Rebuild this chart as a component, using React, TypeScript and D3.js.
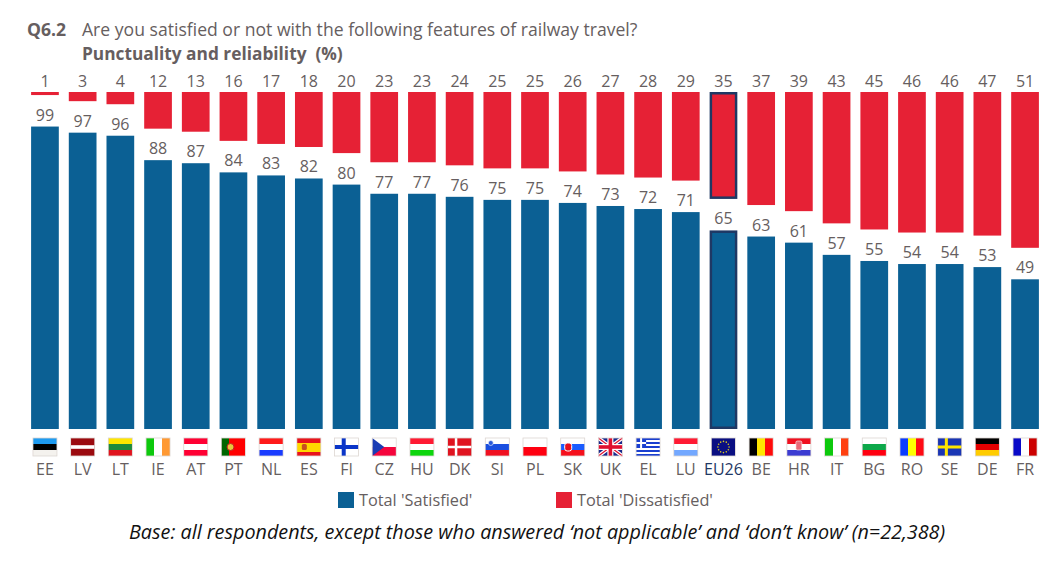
import * as d3 from "d3";

const countries = ["EE", "LV", "LT", "IE", "AT", "PT", "NL", "ES", "FI", "CZ", "HU", "DK", "SI", "PL", "SK", "UK", "EL", "LU", "EU26", "BE", "HR", "IT", "BG", "RO", "SE", "DE", "FR"];
const satisfied = [99, 97, 96, 88, 87, 84, 83, 82, 80, 77, 77, 76, 75, 75, 74, 73, 72, 71, 65, 63, 61, 57, 55, 54, 54, 53, 49];
const dissatisfied = [1, 3, 4, 12, 13, 16, 17, 18, 20, 23, 23, 24, 25, 25, 26, 27, 28, 29, 35, 37, 39, 43, 45, 46, 46, 47, 51];

const BLUE = "#0b6094";
const RED = "#e62135";
const NAVY = "#1f3864";
const GREY = "#665e60";
const FONT = "'Open Sans', sans-serif";

// stripes for the simple flags, top to bottom (h) or left to right (v)
const stripes: Record<string, [string, string[]]> = {
  EE: ["h", ["#1e9bf0", "#000000", "#f4f2ee"]],
  LV: ["h", ["#9b0a0f"]],
  LT: ["h", ["#ffe600", "#1f8a3c", "#e0141e"]],
  IE: ["v", ["#0dc90d", "#ffffff", "#ff9933"]],
  AT: ["h", ["#ff0033", "#ffffff", "#ff0033"]],
  PT: ["v", ["#006600", "#ff0000", "#ff0000"]],
  NL: ["h", ["#ff1a1a", "#ffffff", "#1a3cff"]],
  ES: ["h", ["#e8141c", "#ffd800", "#ffd800", "#e8141c"]],
  FI: ["h", ["#ffffff"]],
  CZ: ["h", ["#ffffff", "#f5053c"]],
  HU: ["h", ["#ff1a33", "#ffffff", "#0dd60d"]],
  DK: ["h", ["#e01420"]],
  SI: ["h", ["#ffffff", "#1a4fe0", "#f01020"]],
  PL: ["h", ["#ffffff", "#ff0010"]],
  SK: ["h", ["#ffffff", "#1a5cff", "#f5101c"]],
  UK: ["h", ["#1a2a8c"]],
  EL: ["h", ["#1a3fd0", "#ffffff", "#1a3fd0", "#ffffff", "#1a3fd0", "#ffffff", "#1a3fd0", "#ffffff", "#1a3fd0"]],
  LU: ["h", ["#ff1a33", "#ffffff", "#73a8ff"]],
  EU26: ["h", ["#0a0f82"]],
  BE: ["v", ["#000000", "#ffe600", "#ff0a0a"]],
  HR: ["h", ["#f01020", "#ffffff", "#3c3cd2"]],
  IT: ["v", ["#0dc90d", "#ffffff", "#ff4010"]],
  BG: ["h", ["#ffffff", "#0da84a", "#ff0010"]],
  RO: ["v", ["#0a3cff", "#ffff00", "#ff0a14"]],
  SE: ["h", ["#1a36b4"]],
  DE: ["h", ["#000000", "#e60000", "#ffcc00"]],
  FR: ["v", ["#0a0ac8", "#ffffff", "#cc0000"]],
};

const W = 24;
const H = 18;

function Cross({ color, w }: { color: string; w: number }) {
  return (
    <g fill={color}>
      <rect x={W * 0.3} y={0} width={w} height={H} />
      <rect x={0} y={(H - w) / 2} width={W} height={w} />
    </g>
  );
}

function Flag({ code }: { code: string }) {
  const [dir, cols] = stripes[code];
  const band = d3.scaleBand<number>().domain(d3.range(cols.length)).range([0, dir === "h" ? H : W]);
  return (
    <g>
      <g shapeRendering="crispEdges">
        {cols.map((c, i) =>
          dir === "h" ? (
            <rect key={i} x={0} y={band(i)} width={W} height={band.bandwidth()} fill={c} />
          ) : (
            <rect key={i} x={band(i)} y={0} width={band.bandwidth()} height={H} fill={c} />
          )
        )}
      </g>
      {code === "LV" && <rect x={0} y={H * 0.4} width={W} height={H * 0.2} fill="#ffffff" />}
      {code === "FI" && <Cross color="#0a35c8" w={4} />}
      {code === "SE" && <Cross color="#ffe600" w={3} />}
      {code === "DK" && <Cross color="#ffffff" w={2.5} />}
      {code === "CZ" && <path d={`M0,0L${W / 2},${H / 2}L0,${H}Z`} fill="#1a3cb4" />}
      {code === "PT" && <circle cx={W * 0.38} cy={H / 2} r={3.5} fill="#e8c83c" stroke="#c02020" />}
      {code === "ES" && <rect x={5} y={6} width={5} height={6} rx={1.5} fill="#c8501e" />}
      {code === "SI" && <circle cx={5.5} cy={5} r={2.5} fill="#2a5ad8" stroke="#ffffff" strokeWidth={0.6} />}
      {code === "SK" && <rect x={4} y={5} width={7} height={8} rx={2.5} fill="#e8101c" stroke="#ffffff" />}
      {code === "HR" && <rect x={9} y={3} width={6} height={9} rx={1.5} fill="#e86a78" stroke="#ffffff" strokeWidth={0.6} />}
      {code === "EL" && (
        <g>
          <rect x={0} y={0} width={10} height={10} fill="#1a3fd0" />
          <rect x={4} y={0} width={2} height={10} fill="#ffffff" />
          <rect x={0} y={4} width={10} height={2} fill="#ffffff" />
        </g>
      )}
      {code === "UK" && (
        <g>
          <path d={`M0,0L${W},${H}M${W},0L0,${H}`} stroke="#ffffff" strokeWidth={3.6} />
          <path d={`M0,0L${W},${H}M${W},0L0,${H}`} stroke="#e01030" strokeWidth={1.2} />
          <rect x={W / 2 - 3} y={0} width={6} height={H} fill="#ffffff" />
          <rect x={0} y={H / 2 - 3} width={W} height={6} fill="#ffffff" />
          <rect x={W / 2 - 1.8} y={0} width={3.6} height={H} fill="#e01030" />
          <rect x={0} y={H / 2 - 1.8} width={W} height={3.6} fill="#e01030" />
        </g>
      )}
      {code === "EU26" &&
        d3.range(12).map((i) => (
          <circle
            key={i}
            cx={W / 2 + 5.6 * Math.cos((i * Math.PI) / 6)}
            cy={H / 2 + 5.6 * Math.sin((i * Math.PI) / 6)}
            r={0.8}
            fill="#d8c820"
          />
        ))}
      <rect x={0} y={0} width={W} height={H} fill="none" stroke="#ddd6d2" strokeWidth={0.8} />
    </g>
  );
}

export default function App() {
  const x = d3.scaleBand().domain(countries).range([26.2, 1043.8]).paddingInner(0.265).paddingOuter(0.13);
  // both stacks share one scale of about 3.05 px per point
  const y = d3.scaleLinear().domain([0, 100]).range([0, 305.5]);
  const redTop = 92;
  const blueBottom = 429;
  const bw = x.bandwidth();

  return (
    <svg width={1064} height={576} style={{ position: "absolute", left: 0, top: 0, fontFamily: FONT }}>
      <rect width={1064} height={576} fill="#ffffff" />
      <text x={27} y={36} fontSize={17.6} fontWeight={700} fill={GREY}>Q6.2</text>
      <text x={82} y={36} fontSize={17.6} fill={GREY}>Are you satisfied or not with the following features of railway travel?</text>
      <text x={82} y={60} fontSize={17.3} fontWeight={700} fill={GREY} style={{ whiteSpace: "pre" }}>Punctuality and reliability  (%)</text>

      {countries.map((c, i) => {
        const bx = x(c)!;
        const cx = bx + bw / 2;
        const isEU = c === "EU26";
        const rh = y(dissatisfied[i]);
        const bh = y(satisfied[i]);
        // the EU26 outline sits inside the bar, so the bar keeps its width
        const inset = isEU ? 1.25 : 0;
        return (
          <g key={c}>
            <rect x={bx + inset} y={redTop + inset} width={bw - 2 * inset} height={rh - 2 * inset} fill={RED} stroke={isEU ? NAVY : "none"} strokeWidth={2.5} />
            <rect x={bx + inset} y={blueBottom - bh + inset} width={bw - 2 * inset} height={bh - 2 * inset} fill={BLUE} stroke={isEU ? NAVY : "none"} strokeWidth={2.5} />
            <text x={cx} y={87} textAnchor="middle" fontSize={16} fill={GREY}>{dissatisfied[i]}</text>
            <text x={cx} y={blueBottom - bh - 6} textAnchor="middle" fontSize={16} fill={GREY}>{satisfied[i]}</text>
            <g transform={`translate(${cx - W / 2},438)`}>
              <Flag code={c} />
            </g>
            <text x={cx} y={475} textAnchor="middle" fontSize={16} fill={isEU ? NAVY : GREY}>{c}</text>
          </g>
        );
      })}

      <rect x={338} y={492} width={16} height={16} fill={BLUE} />
      <text x={359} y={506} fontSize={16.3} fill={GREY}>Total 'Satisfied'</text>
      <rect x={556} y={492} width={16} height={16} fill={RED} />
      <text x={577} y={506} fontSize={16.3} fill={GREY}>Total 'Dissatisfied'</text>

      <text x={129} y={539} fontSize={19.77} fontStyle="italic" fill="#111111">
        Base: all respondents, except those who answered ‘not applicable’ and ‘don’t know’ (n=22,388)
      </text>
    </svg>
  );
}
